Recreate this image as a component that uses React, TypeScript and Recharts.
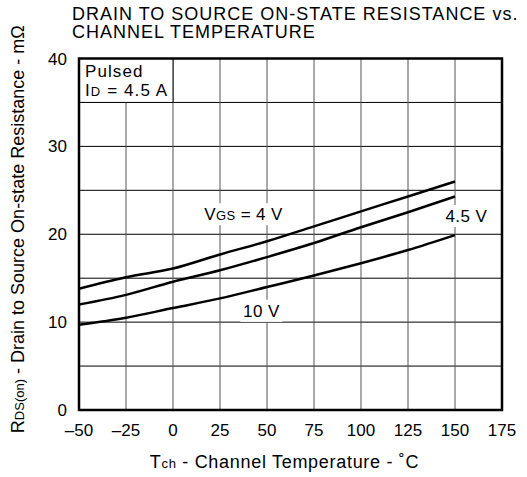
import React from 'react';
import { LineChart, Line, XAxis, YAxis, CartesianGrid, ReferenceArea, ReferenceDot } from 'recharts';

// channel temperature (°C) and RDS(on) in mΩ
const temps = [-50, -25, 0, 25, 50, 75, 100, 125, 150];
const rVgs4 = [13.8, 15.1, 16.1, 17.7, 19.2, 20.9, 22.6, 24.3, 26.0];
const rVgs45 = [12.0, 13.1, 14.6, 15.9, 17.4, 19.0, 20.8, 22.5, 24.3];
const rVgs10 = [9.7, 10.5, 11.6, 12.7, 14.0, 15.3, 16.7, 18.2, 19.9];

const xTicks = [-50, -25, 0, 25, 50, 75, 100, 125, 150, 175];
const yTicks = [0, 5, 10, 15, 20, 25, 30, 35, 40];

const FONT = '"Liberation Sans", Arial, Helvetica, sans-serif';

const data = temps.map((t, i) => ({
  t,
  vgs4: rVgs4[i],
  vgs45: rVgs45[i],
  vgs10: rVgs10[i],
}));

const fmtX = (v: number) => (v < 0 ? `\u2013${-v}` : `${v}`);
const fmtY = (v: number) => (v % 10 === 0 ? `${v}` : '');

// label with a white patch behind it, centred on the dot position (baseline at cy)
const CurveLabel = ({ cx, cy, main, sub, rest, w }: any) => (
  <g>
    <rect x={cx - w / 2 - 2} y={cy - 17} width={w + 4} height={22} fill="#fff" />
    <text x={cx} y={cy} textAnchor="middle" fontFamily={FONT} fontSize={17} letterSpacing={0.4} fill="#000">
      {main}
      {sub ? <tspan fontSize={13}>{sub}</tspan> : null}
      {rest}
    </text>
  </g>
);

const PulsedLabel = ({ viewBox }: any) => {
  const { x, y } = viewBox;
  return (
    <g fontFamily={FONT} fontSize={17} letterSpacing={1.1} fill="#000">
      <text x={x + 6} y={y + 18}>Pulsed</text>
      <text x={x + 6} y={y + 37.5}>
        I<tspan fontSize={13}>D</tspan> = 4.5 A
      </text>
    </g>
  );
};

const YLabel = ({ viewBox }: any) => {
  const cy = viewBox.y + viewBox.height / 2 - 5;
  return (
    <text
      x={23.5}
      y={cy}
      transform={`rotate(-90, 23.5, ${cy})`}
      textAnchor="middle"
      fontFamily={FONT}
      fontSize={18}
      fill="#000"
    >
      R<tspan fontSize={13}>DS(on)</tspan> - Drain to Source On-state Resistance - mΩ
    </text>
  );
};

const XLabel = ({ viewBox }: any) => (
  <text
    x={viewBox.x + viewBox.width / 2 - 6}
    y={468}
    textAnchor="middle"
    fontFamily={FONT}
    fontSize={18}
    letterSpacing={0.7}
    fill="#000"
  >
    T<tspan fontSize={13}>ch</tspan> - Channel Temperature - ˚C
  </text>
);

export default function App() {
  return (
    <div style={{ position: 'relative', width: 527, height: 477, background: '#fff' }}>
      <style>{'body{margin:0}'}</style>
      <div
        style={{
          position: 'absolute',
          left: 72,
          top: 4.5,
          fontFamily: FONT,
          fontSize: 18,
          letterSpacing: 1,
          lineHeight: '18.5px',
          color: '#000',
          whiteSpace: 'nowrap',
        }}
      >
        DRAIN TO SOURCE ON-STATE RESISTANCE vs.
        <br />
        CHANNEL TEMPERATURE
      </div>
      <LineChart
        width={527}
        height={477}
        data={data}
        margin={{ top: 58.5, right: 25, bottom: 37, left: 39 }}
      >
        <CartesianGrid vertical={false} stroke="#000" strokeWidth={1} />
        <CartesianGrid horizontal={false} stroke="#555" strokeWidth={1} />
        <XAxis
          dataKey="t"
          type="number"
          domain={[-50, 175]}
          ticks={xTicks}
          tickFormatter={fmtX}
          tickSize={0}
          tickMargin={14}
          axisLine={false}
          tickLine={false}
          height={30}
          tick={{ fill: '#000', fontSize: 17, fontFamily: FONT }}
          interval={0}
          label={{ content: XLabel }}
        />
        <YAxis
          type="number"
          domain={[0, 40]}
          ticks={yTicks}
          tickFormatter={fmtY}
          tickSize={0}
          tickMargin={12}
          axisLine={false}
          tickLine={false}
          width={40}
          tick={{ fill: '#000', fontSize: 17, fontFamily: FONT }}
          interval={0}
          label={{ content: YLabel }}
        />
        <ReferenceArea
          x1={-50}
          x2={0}
          y1={35}
          y2={40}
          fill="#fff"
          fillOpacity={1}
          stroke="#000"
          strokeWidth={1}
          label={{ content: PulsedLabel }}
        />
        <ReferenceDot
          x={37.5}
          y={21.6}
          r={0}
          shape={(p: any) => <CurveLabel cx={p.cx} cy={p.cy} main="V" sub="GS" rest=" = 4 V" w={80} />}
        />
        <ReferenceDot
          x={156}
          y={21.4}
          r={0}
          shape={(p: any) => <CurveLabel cx={p.cx} cy={p.cy} main="4.5 V" w={46} />}
        />
        <ReferenceDot
          x={47}
          y={10.6}
          r={0}
          shape={(p: any) => <CurveLabel cx={p.cx} cy={p.cy} main="10 V" w={38} />}
        />
        <Line type="monotone" dataKey="vgs4" stroke="#000" strokeWidth={2.5} dot={false} isAnimationActive={false} />
        <Line type="monotone" dataKey="vgs45" stroke="#000" strokeWidth={2.5} dot={false} isAnimationActive={false} />
        <Line type="monotone" dataKey="vgs10" stroke="#000" strokeWidth={2.5} dot={false} isAnimationActive={false} />
        <ReferenceArea x1={-50} x2={175} y1={0} y2={40} fill="none" stroke="#000" strokeWidth={2.5} />
      </LineChart>
    </div>
  );
}
